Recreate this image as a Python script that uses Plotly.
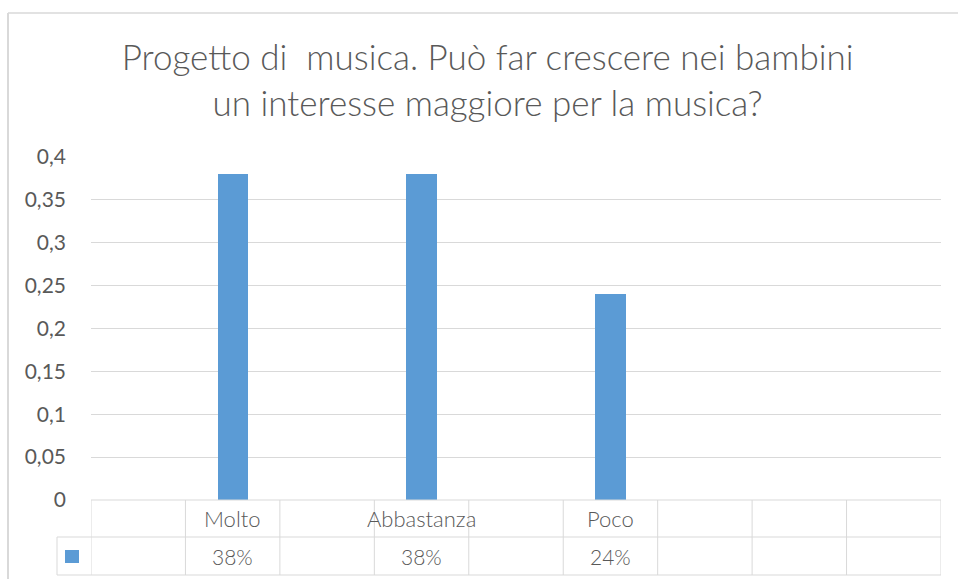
import plotly.graph_objects as go

# ---- data ----
categories = ["", "Molto", "", "Abbastanza", "", "Poco", "", "", ""]
values = [None, 0.38, None, 0.38, None, 0.24, None, None, None]
tick_values = [0, 0.05, 0.1, 0.15, 0.2, 0.25, 0.3, 0.35, 0.4]
tick_labels = ["0", "0,05", "0,1", "0,15", "0,2", "0,25", "0,3", "0,35", "0,4"]
title_text = "Progetto di  musica. Può far crescere nei bambini<br>un interesse maggiore per la musica?"

# ---- layout constants (pixels) ----
W, H = 958, 579
L, R, T, B = 91, 941, 157, 500
BAR_COLOR = "#5b9bd5"
GRID = "#d9d9d9"
TXT = "#595959"
FONT = "Lato"


def px(xp):
    return (xp - L) / (R - L)


def py(yp):
    return (B - yp) / (B - T)


xs = list(range(len(categories)))

fig = go.Figure()
fig.add_trace(go.Bar(x=xs, y=values, width=0.32, marker_color=BAR_COLOR,
                     marker_line_width=0, hoverinfo="skip", showlegend=False))

shapes = []
line = dict(color=GRID, width=1)
row1_top, row1_bot, row2_bot = 500, 537, 575
# horizontal table lines
shapes.append(dict(type="line", xref="x", yref="paper", x0=-0.5, x1=len(categories) - 0.5,
                   y0=py(row1_top), y1=py(row1_top), line=line))
for yy in (row1_bot, row2_bot):
    shapes.append(dict(type="line", xref="paper", yref="paper", x0=px(57), x1=1,
                       y0=py(yy), y1=py(yy), line=line))
# vertical table lines
for k in range(len(categories) + 1):
    shapes.append(dict(type="line", xref="x", yref="paper", x0=k - 0.5, x1=k - 0.5,
                       y0=py(row1_top), y1=py(row2_bot), line=line))
shapes.append(dict(type="line", xref="paper", yref="paper", x0=px(57), x1=px(57),
                   y0=py(row1_bot), y1=py(row2_bot), line=line))
# legend key
shapes.append(dict(type="rect", xref="paper", yref="paper", x0=px(65), x1=px(79),
                   y0=py(563), y1=py(550), fillcolor=BAR_COLOR, line_width=0))
# chart border
shapes.append(dict(type="line", xref="paper", yref="paper", x0=px(8), x1=px(8),
                   y0=py(13), y1=py(H + 5), line=dict(color=GRID, width=2)))
shapes.append(dict(type="line", xref="paper", yref="paper", x0=px(8), x1=px(W + 5),
                   y0=py(13), y1=py(13), line=dict(color=GRID, width=1.5)))

annotations = []
for i, c in enumerate(categories):
    if c:
        annotations.append(dict(x=i, y=py((row1_top + row1_bot) / 2), xref="x", yref="paper",
                                text=c, showarrow=False, yanchor="middle",
                                font=dict(family=FONT, size=22, color=TXT, weight=300)))
    v = values[i]
    if v is not None:
        annotations.append(dict(x=i, y=py((row1_bot + row2_bot) / 2), xref="x", yref="paper",
                                text=f"{round(v * 100)}%", showarrow=False, yanchor="middle",
                                font=dict(family=FONT, size=21, color=TXT, weight=300)))

fig.update_layout(
    width=W, height=H,
    margin=dict(l=L, r=W - R, t=T, b=H - B),
    paper_bgcolor="white", plot_bgcolor="white",
    title=dict(text=title_text, x=0.509, xref="container", xanchor="center",
               y=1 - 70 / H, yref="container", yanchor="middle",
               font=dict(family=FONT, size=35, color=TXT, weight=300)),
    xaxis=dict(range=[-0.5, len(categories) - 0.5], showticklabels=False,
               showgrid=False, zeroline=False, showline=False, fixedrange=True),
    yaxis=dict(range=[0, 0.4], tickvals=tick_values, ticktext=tick_labels,
               showgrid=True, gridcolor=GRID, gridwidth=1, zeroline=False,
               showline=False, ticks="", ticklabelstandoff=24,
               tickfont=dict(family=FONT, size=21, color=TXT), fixedrange=True),
    shapes=shapes, annotations=annotations,
    bargap=0, showlegend=False,
)

fig.write_html("out.html", config={"displayModeBar": False},
               post_script="document.body.style.margin='0px';")
